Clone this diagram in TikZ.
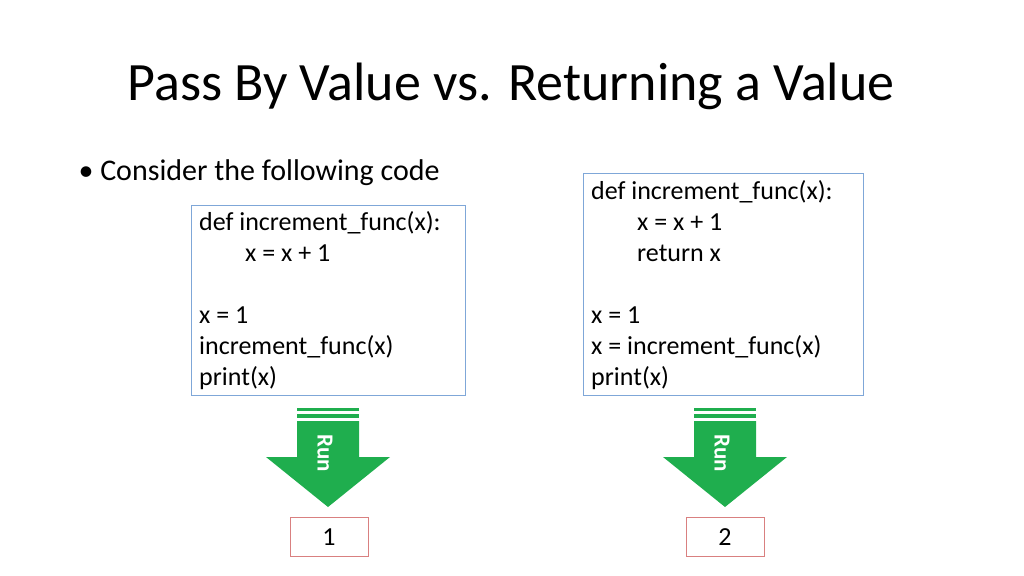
\documentclass[tikz,border=0pt]{standalone}
\usepackage{fontspec}
\setmainfont{Carlito}
\usetikzlibrary{positioning}
\definecolor{boxblue}{HTML}{7FA7D8}
\definecolor{boxred}{HTML}{D98080}
\definecolor{rungreen}{HTML}{1FAE4E}
\begin{document}
\begin{tikzpicture}
[x=1pt,y=-1pt,
 codebox/.style={draw=boxblue,thick},
 code/.style={anchor=north west,align=left,inner sep=0pt,font=\fontsize{26}{31}\selectfont},
 result/.style={draw=boxred,thick,minimum width=78pt,minimum height=39pt,inner sep=0pt,
   font=\fontsize{26}{30}\selectfont},
 run/.style={fill=rungreen,draw=none}]

\useasboundingbox (0,0) rectangle (1024,575);

\node (title) at (511,86) {\fontsize{54}{60}\selectfont Pass By Value vs. Returning a Value};
\node[anchor=west] (bullet) at (75,173) {\fontsize{30}{34}\selectfont\textbullet\ Consider the following code};

% left code
\draw[codebox] (191,205) rectangle (465,395);
\node[code] (codeA) at (199,211)
 {def increment\_func(x):\\\hspace{46pt}x = x + 1\\[31pt]x = 1\\increment\_func(x)\\print(x)};

% right code
\draw[codebox] (583,173) rectangle (863,395);
\node[code] (codeB) at (591,180)
 {def increment\_func(x):\\\hspace{46pt}x = x + 1\\\hspace{46pt}return x\\[31pt]x = 1\\x = increment\_func(x)\\print(x)};

% run arrows
\foreach \cx/\nm in {328/A,725/B}{
  \fill[run] (\cx-31,408) rectangle (\cx+31,411);
  \fill[run] (\cx-31,414) rectangle (\cx+31,418);
  \fill[run] (\cx-31,421) -- (\cx+31,421) -- (\cx+31,457) -- (\cx+62,457)
     -- (\cx,507) -- (\cx-62,457) -- (\cx-31,457) -- cycle;
  \node[white,rotate=-90,font=\fontsize{23}{26}\selectfont\bfseries] (run\nm) at (\cx-3,453) {Run};
}

\node[result] (resA) at (329,537) {1};
\node[result] (resB) at (725,537) {2};
\end{tikzpicture}
\end{document}
